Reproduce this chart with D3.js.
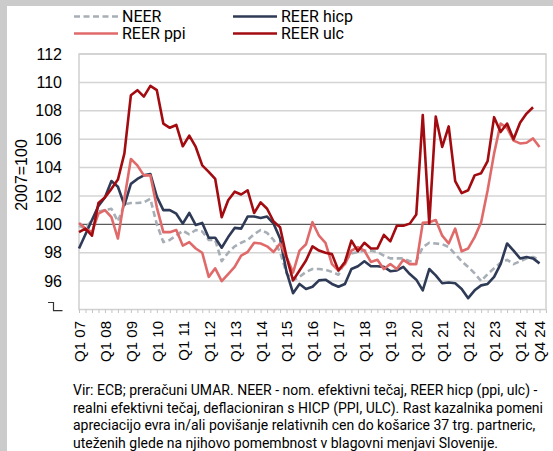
<!DOCTYPE html>
<html lang="sl">
<head>
<meta charset="UTF-8">
<title>NEER / REER</title>
<script src="https://d3js.org/d3.v7.min.js"></script>
<style>
  body { margin: 0; background: #fff; }
  svg { display: block; }
  .tick text { font-family: "Liberation Sans", Arial, sans-serif; fill: #000; }
</style>
</head>
<body>
<svg width="553" height="451"></svg>
<script>
// data (index 2007 = 100), quarterly Q1 2007 - Q4 2024
var years = ["07","08","09","10","11","12","13","14","15","16","17","18","19","20","21","22","23","24"];
var tickLabels = ["Q1 07","Q1 08","Q1 09","Q1 10","Q1 11","Q1 12","Q1 13","Q1 14","Q1 15","Q1 16",
                  "Q1 17","Q1 18","Q1 19","Q1 20","Q1 21","Q1 22","Q1 23","Q1 24","Q4 24"];
var yTicks = [96, 98, 100, 102, 104, 106, 108, 110, 112];

var neer = [99.9, 99.7, 100.3, 100.9, 101.0, 101.1, 100.2, 101.4, 101.5, 101.5, 101.55, 101.8,
            100.0, 98.75, 98.9, 99.2, 99.55, 99.3, 99.6, 99.5, 98.9, 98.9, 97.4, 98.0,
            98.45, 98.7, 98.9, 99.3, 99.6, 99.4, 98.9, 98.05, 96.55, 96.05, 96.3, 96.65,
            96.85, 96.85, 96.8, 96.65, 96.45, 97.4, 97.95, 98.05, 98.15, 98.15, 98.05, 97.8,
            97.6, 97.6, 97.6, 97.4, 97.4, 98.4, 98.7, 98.65, 98.6, 98.4, 97.9, 97.4,
            97.0, 96.55, 96.0, 96.5, 96.9, 97.3, 97.5, 97.2, 97.4, 97.6, 97.7, 97.5];
var reerHicp = [98.3, 99.3, 100.3, 101.3, 101.9, 103.05, 102.65, 101.35, 102.85, 103.2, 103.45, 103.55,
                101.95, 101.0, 101.0, 100.75, 100.05, 100.8, 99.95, 100.1, 99.05, 99.05, 98.35, 99.1,
                99.75, 99.7, 100.55, 100.55, 100.45, 100.55, 100.05, 99.0, 96.65, 95.15, 95.8, 95.45,
                95.6, 96.05, 96.1, 95.8, 95.6, 95.8, 96.85, 97.05, 97.4, 97.05, 97.05, 97.0,
                96.7, 96.75, 97.0, 96.5, 96.1, 95.35, 96.85, 96.4, 95.85, 95.9, 95.85, 95.45,
                94.8, 95.35, 95.7, 95.8, 96.3, 97.2, 98.65, 98.15, 97.6, 97.7, 97.6, 97.25];
var reerPpi = [100.1, 99.7, 99.45, 100.75, 101.0, 100.5, 99.0, 101.8, 104.6, 104.15, 103.45, 103.45,
               101.2, 99.45, 99.45, 99.6, 98.5, 98.75, 98.3, 98.0, 96.3, 96.9, 96.0, 96.5,
               97.0, 97.8, 98.05, 98.7, 98.65, 98.45, 98.05, 98.65, 97.7, 96.6, 98.15, 98.6,
               100.15, 99.2, 98.7, 97.2, 96.75, 97.2, 98.15, 98.4, 98.15, 97.35, 97.5, 96.85,
               97.2, 96.85, 97.5, 97.2, 97.2, 100.1, 100.15, 100.3, 99.2, 98.65, 99.7, 98.1,
               98.3, 99.1, 100.15, 102.4, 105.0, 107.1, 106.8, 105.9, 105.7, 105.75, 106.05, 105.45];
var reerUlc = [99.45, 99.7, 99.2, 101.5, 101.9, 102.5, 103.15, 105.0, 109.1, 109.45, 109.0, 109.75,
               109.45, 107.1, 106.8, 107.0, 105.5, 106.25, 105.45, 104.15, 103.7, 103.2, 100.5, 101.7,
               102.3, 102.1, 102.4, 100.8, 101.55, 101.1, 100.2, 99.8, 97.7, 96.05, 96.75, 97.45,
               98.45, 98.15, 98.0, 97.9, 96.75, 97.35, 98.85, 98.1, 98.7, 98.3, 98.3, 99.25,
               98.8, 99.9, 99.9, 100.05, 100.7, 107.7, 100.05, 107.6, 105.45, 106.9, 103.05, 102.2,
               102.4, 103.45, 103.6, 104.45, 107.55, 106.5, 107.1, 106.0, 107.15, 107.8, 108.25, null];

var seriesNames = ["NEER", "REER hicp", "REER ppi", "REER ulc"];
var seriesColors = ["#a7aeb5", "#2e3a56", "#e06a6a", "#a20c10"];

var notes = [
  "Vir: ECB; preračuni UMAR. NEER - nom. efektivni tečaj, REER hicp (ppi, ulc) -",
  "realni efektivni tečaj, deflacioniran s HICP (PPI, ULC). Rast kazalnika pomeni",
  "apreciacijo evra in/ali povišanje relativnih cen do košarice 37 trg. partneric,",
  "uteženih glede na njihovo pomembnost v blagovni menjavi Slovenije."
];

var quarters = [];
years.forEach(function(yr) {
  ["Q1", "Q2", "Q3", "Q4"].forEach(function(q) { quarters.push(q + " " + yr); });
});

var svg = d3.select("svg");

// grey frame of the clipping
svg.append("rect").attr("width", 553).attr("height", 451).attr("fill", "#cbcbcb");
svg.append("rect").attr("x", 7).attr("y", 6).attr("width", 546).attr("height", 445).attr("fill", "#fff");

var plotLeft = 79, plotRight = 546, plotTop = 54, plotBottom = 309.5;

// one empty slot after Q4 24, points sit on the tick marks
var x = d3.scaleLinear().domain([0, quarters.length]).range([plotLeft, plotRight]);
var y = d3.scaleLinear().domain([94, 112]).range([plotBottom, plotTop]);

// gridlines
svg.append("g")
  .selectAll("line")
  .data(yTicks.filter(function(v) { return v !== 100; }))
  .enter().append("line")
  .attr("x1", plotLeft).attr("x2", plotRight)
  .attr("y1", function(d) { return y(d); })
  .attr("y2", function(d) { return y(d); })
  .attr("stroke", "#d4d4d4")
  .attr("stroke-width", 1.5);

// plot frame
svg.append("rect")
  .attr("x", plotLeft).attr("y", plotTop)
  .attr("width", plotRight - plotLeft).attr("height", plotBottom - plotTop)
  .attr("fill", "none").attr("stroke", "#d0d0d0").attr("stroke-width", 1.5);

svg.append("line")
  .attr("x1", plotLeft).attr("x2", plotRight)
  .attr("y1", y(100)).attr("y2", y(100))
  .attr("stroke", "#5b5b5b").attr("stroke-width", 1.3);

// y axis labels
var yAxis = svg.append("g")
  .attr("transform", "translate(" + (plotLeft - 17) + ",0)")
  .call(d3.axisLeft(y).tickValues(yTicks).tickSize(0).tickPadding(0));
yAxis.select(".domain").remove();
yAxis.selectAll("text").style("font-size", "16px");

// axis break mark in place of 94
svg.append("path")
  .attr("d", "M48," + (plotBottom - 7) + "H53.5V" + (plotBottom + 1.2) + "H62.5")
  .attr("fill", "none").attr("stroke", "#333").attr("stroke-width", 1.2);

svg.append("text")
  .attr("transform", "translate(27,175) rotate(-90)")
  .attr("text-anchor", "middle")
  .style("font-family", "'Liberation Sans', Arial, sans-serif")
  .style("font-size", "16px")
  .text("2007=100");

// x axis
var labelAt = {};
quarters.forEach(function(q, i) {
  if (tickLabels.indexOf(q) >= 0) labelAt[i] = q;
});

var xAxis = svg.append("g")
  .attr("transform", "translate(0," + plotBottom + ")")
  .call(d3.axisBottom(x)
    .tickValues(d3.range(quarters.length + 1))
    .tickSize(3.5)
    .tickFormat(function(i) { return labelAt[i] || ""; }));
xAxis.select(".domain").remove();
xAxis.selectAll(".tick line").attr("stroke", "#c4c4c4").attr("stroke-width", 1);
xAxis.selectAll("text")
  .style("font-size", "15px")
  .attr("transform", "rotate(-90)")
  .attr("text-anchor", "end")
  .attr("x", -11.5)
  .attr("y", 0)
  .attr("dy", "0.36em");

// lines
var allSeries = [neer, reerHicp, reerPpi, reerUlc];
var line = d3.line()
  .defined(function(d) { return d != null; })
  .x(function(d, i) { return x(i); })
  .y(function(d) { return y(d); });

allSeries.forEach(function(values, k) {
  svg.append("path")
    .datum(values)
    .attr("fill", "none")
    .attr("stroke", seriesColors[k])
    .attr("stroke-width", 2.6)
    .attr("stroke-linejoin", "round")
    .attr("stroke-dasharray", k === 0 ? "6,3.5" : null)
    .attr("d", line);
});

// legend
var legend = svg.append("g")
  .selectAll("g")
  .data(seriesNames)
  .enter().append("g")
  .attr("transform", function(d, i) {
    return "translate(" + (i % 2 === 0 ? 74 : 233) + "," + (i < 2 ? 16.5 : 33.5) + ")";
  });

legend.append("line")
  .attr("x1", 0).attr("x2", 44)
  .attr("stroke", function(d) { return seriesColors[seriesNames.indexOf(d)]; })
  .attr("stroke-width", 2.6)
  .attr("stroke-dasharray", function(d) { return d === "NEER" ? "6,3.5" : null; });

legend.append("text")
  .attr("x", 48)
  .attr("dy", "0.35em")
  .style("font-family", "Roboto, sans-serif")
  .style("font-size", "16px")
  .text(function(d) { return d; });

// footnote
svg.append("g")
  .selectAll("text")
  .data(notes)
  .enter().append("text")
  .attr("x", 73)
  .attr("y", function(d, i) { return 395 + i * 17.6; })
  .style("font-family", "Roboto, sans-serif")
  .style("font-size", "14px")
  .text(function(d) { return d; });
</script>
</body>
</html>
